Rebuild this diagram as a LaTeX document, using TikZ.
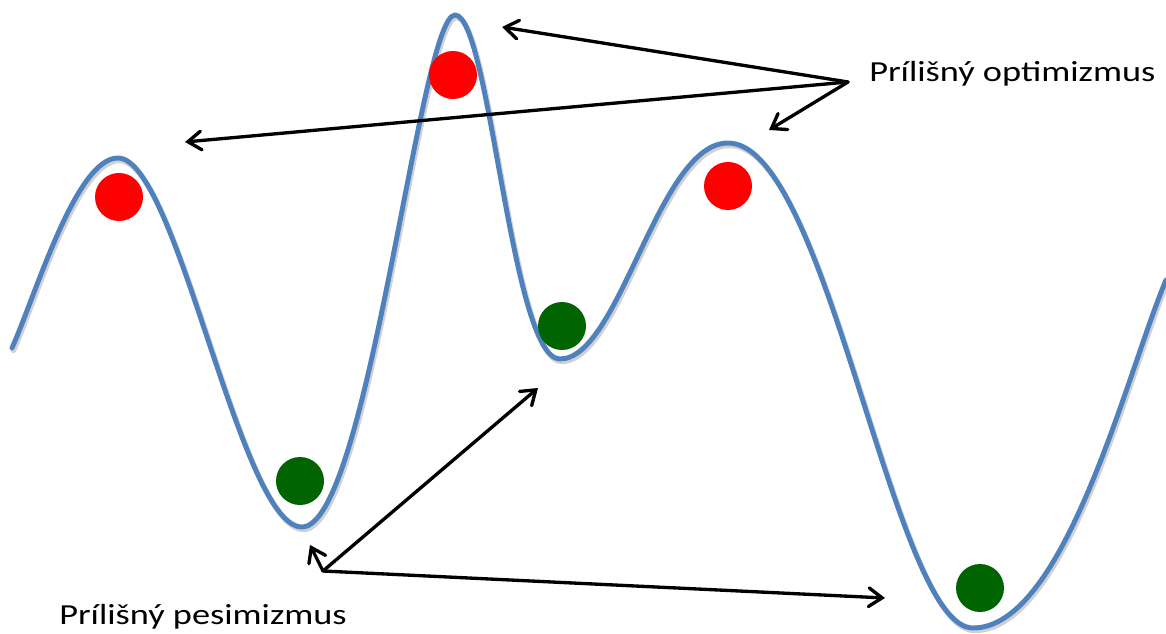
\documentclass[tikz,border=0pt]{standalone}
\usepackage{fontspec}
\setmainfont{Carlito}
\newfontfamily\lblfont[FakeStretch=1.25]{Carlito}
\usetikzlibrary{arrows.meta}
\definecolor{curveblue}{HTML}{4F81BD}
\definecolor{ballred}{HTML}{FF0000}
\definecolor{ballgreen}{HTML}{006400}
\tikzset{
  curve/.style={draw=curveblue, line width=3.7pt, line cap=round, line join=round},
  curveshadow/.style={draw=black, opacity=0.18, line width=4pt, line cap=round},
  redball/.style={circle, fill=ballred, draw=none, minimum size=36pt, inner sep=0pt},
  greenball/.style={circle, fill=ballgreen, draw=none, minimum size=36pt, inner sep=0pt},
  arr/.style={draw=black, line width=2.5pt, line cap=round,
    -{Straight Barb[length=10pt, width=14pt, line cap=round]}},
  lbl/.style={anchor=base west, inner sep=0pt, font=\lblfont\fontsize{21.8}{26}\selectfont, text=black}
}
\begin{document}
\begin{tikzpicture}[x=0.75pt, y=-0.75pt]
\useasboundingbox (0,0) rectangle (1166,634);
% shadow of the curve
\begin{scope}[shift={(1.5,2.5)}]
\draw[curveshadow] (12,348) .. controls (36,294) and (76,158) .. (118,158)
 .. controls (177,158) and (240,527) .. (302,527)
 .. controls (368,527) and (420,15) .. (455,15)
 .. controls (490,15) and (511,359) .. (560,359)
 .. controls (620,359) and (658,143) .. (728,143)
 .. controls (828,143) and (893,628) .. (973,628)
 .. controls (1065,628) and (1127,372) .. (1166,280);
\end{scope}
% the curve
\draw[curve] (12,348) .. controls (36,294) and (76,158) .. (118,158)
 .. controls (177,158) and (240,527) .. (302,527)
 .. controls (368,527) and (420,15) .. (455,15)
 .. controls (490,15) and (511,359) .. (560,359)
 .. controls (620,359) and (658,143) .. (728,143)
 .. controls (828,143) and (893,628) .. (973,628)
 .. controls (1065,628) and (1127,372) .. (1166,280);
% balls
\node[redball] (r1) at (119,197) {};
\node[redball] (r2) at (453,75) {};
\node[redball] (r3) at (728,186) {};
\node[greenball] (g1) at (300,481) {};
\node[greenball] (g2) at (562,326) {};
\node[greenball] (g3) at (980,588) {};
% labels
\node[lbl] (opt) at (869,82) {Prílišný optimizmus};
\node[lbl] (pes) at (59,624) {Prílišný pesimizmus};
% arrow origins and tips
\coordinate (oo) at (848,82);
\coordinate (o1) at (502,27);
\coordinate (o2) at (185,142);
\coordinate (o3) at (769,130);
\coordinate (po) at (323,571);
\coordinate (p1) at (310,545);
\coordinate (p2) at (538,388);
\coordinate (p3) at (885,598);
\draw[arr] (oo) -- (o1);
\draw[arr] (oo) -- (o2);
\draw[arr] (oo) -- (o3);
\draw[arr] (po) -- (p1);
\draw[arr] (po) -- (p2);
\draw[arr] (po) -- (p3);
\end{tikzpicture}
\end{document}
